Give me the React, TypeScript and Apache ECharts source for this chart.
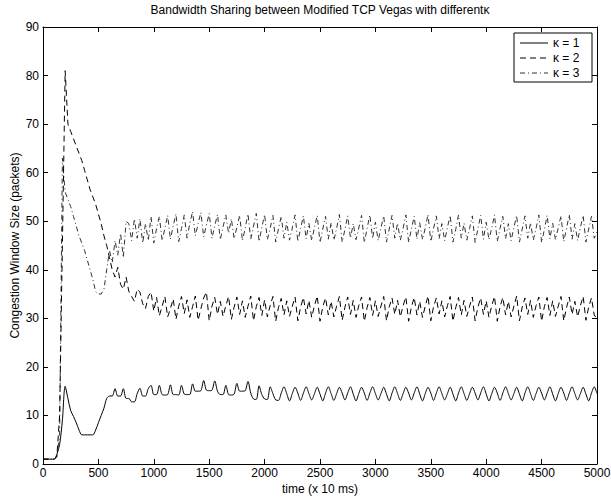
import React, { useEffect, useRef } from "react";
import * as echarts from "echarts";

const STEP = 25; // time grid step (x 10 ms)
const SERIES_NAMES = ["κ = 1", "κ = 2", "κ = 3"];
const TITLE = "Bandwidth Sharing between Modified TCP Vegas with differentκ";
const X_NAME = "time (x 10 ms)";
const Y_NAME = "Congestion Window Size (packets)";

const K1 = [
  1, 1, 1, 1, 1, 2, 4, 9, 16, 13.5,
  11, 9.8, 8.5, 7, 6, 6, 6, 6, 6, 7,
  8.5, 10, 11.5, 13.5, 14, 14, 15.5, 14, 14, 15.5,
  13.5, 13.5, 12.8, 12.8, 14.5, 15.6, 14, 14, 15.5, 16.2,
  14.3,
  14.3, 16.2, 14.3, 14.2, 14.3, 16.3, 14.3, 14.3, 14.2, 16.2, 14.4, 14.3,
  14.3, 16.5, 15, 15, 15.1, 17.2, 15.2, 15.1, 15.2, 17.1, 15, 14.3,
  14.3, 16.2, 14.3, 14.2, 14.4, 16.6, 15, 15, 15.1, 17, 14.6, 13.4,
  13.3, 16.1, 14.3, 13.4, 13.3, 15.9, 14.5, 13.2,
  13.1, 14.6, 15.9, 14.5, 13.0, 14.5, 15.8, 14.6, 13.1, 14.6, 15.9, 14.5,
  13.2, 14.5, 15.8, 14.4, 13.0, 14.6, 15.9, 14.5, 13.1, 14.5, 15.8, 14.6,
  13.2, 14.6, 15.9, 14.4, 13.0, 14.5, 15.8, 14.6, 13.1, 14.6, 15.9, 14.5,
  13.2, 14.5, 15.8, 14.4, 13.0, 14.6, 15.9, 14.5, 13.1, 14.5, 15.8, 14.6,
  13.2, 14.6, 15.9, 14.4, 13.0, 14.5, 15.8, 14.6, 13.1, 14.6, 15.9, 14.5,
  13.2, 14.5, 15.8, 14.4, 13.0, 14.6, 15.9, 14.5, 13.1, 14.5, 15.8, 14.6,
  13.2, 14.6, 15.9, 14.4, 13.0, 14.5, 15.8, 14.6, 13.1, 14.6, 15.9, 14.5,
  13.2, 14.5, 15.8, 14.4, 13.0, 14.6, 15.9, 14.5, 13.1, 14.5, 15.8, 14.6,
  13.2, 14.6, 15.9, 14.4, 13.0, 14.5, 15.8, 14.6, 13.1, 14.6, 15.9, 14.5,
  13.2, 14.5, 15.8, 14.4, 13.0, 14.6, 15.9, 14.5,
];

const K2 = [
  1, 1, 1, 1, 1, 1.5, 10, 45, 81, 70,
  68.5, 67, 65.5, 64, 62.5, 60.5, 58.5, 56.5, 55, 53.5,
  51.5, 49.5, 47, 45, 42.5, 40, 38.5, 40.5, 37, 36,
  38.5, 35.5, 34.5, 33.5, 36, 35.4, 33, 32, 34.5, 35.4,
  31.5,
  34.3, 30.5, 32.5, 34.5, 30.3, 32, 34, 29.8, 32.5, 34.5,
  31, 33.8, 30.2, 32.4, 34.6, 29.6, 32, 34.2, 35.4, 29.5,
  32.5, 34.3, 30.8, 33.5, 30.4, 32.6, 34.5, 29.8, 32.3, 34.4,
  30.8, 33.6, 30.2, 32.5, 34.6, 29.5, 32.4, 34.3, 30.6, 33.8,
  30.3, 32.6, 34.5, 29.4, 32.2, 34.1, 30.7, 33.6, 30.4, 32.5,
  34.4, 29.5, 32.3, 34.3, 30.9, 33.7, 30.2, 32.6, 34.6, 29.4,
  32.4, 34.2, 30.7, 33.5, 30.3, 32.5, 34.5, 29.6, 32.3, 34.4,
  30.8, 33.7, 30.2, 32.6, 34.4, 29.4, 32.2, 34.3, 30.6, 33.6,
  30.4, 32.5, 34.5, 29.5, 32.4, 34.2, 30.8, 33.7, 30.3, 32.6,
  34.4, 29.4, 32.3, 34.3, 30.7, 33.5, 30.2, 32.5, 34.6, 29.5,
  32.4, 34.2, 30.9, 33.6, 30.3, 32.6, 34.5, 29.4, 32.2, 34.3,
  30.7, 33.7, 30.4, 32.5, 34.4, 29.5, 32.3, 34.2, 30.8, 33.6,
  30.2, 32.6, 34.5, 29.4, 32.4, 34.3, 30.7, 33.5, 30.3, 32.5,
  34.6, 29.5, 32.3, 34.2, 30.8, 33.7, 30.2, 32.6, 34.4, 29.4,
  32.4, 34.3, 30.6, 33.6, 30.4, 32.5, 34.5, 29.5, 32.2, 34.4,
  30.8, 33.5, 30.3, 32.6, 34.5, 29.6, 32.3, 34.2, 30.7, 29.8,
];

const K3 = [
  1, 1, 1, 1, 1, 1.5, 6, 63, 56, 54.5,
  53, 51, 49, 47, 45.5, 44, 42, 40, 38, 35.5,
  35, 35, 36, 40, 44, 41.5, 46, 43, 47.5, 42.5,
  50, 49.5, 46, 50.5, 46.5, 50.5, 45.5, 49.5, 46, 51,
  45.5,
  48.5, 51, 46, 48.5, 51.2, 46.3, 49, 51.5, 45.8, 48.5,
  51.3, 46.5, 49.5, 52, 47, 49.5, 51.8, 46.8, 49.2, 51.6,
  46.5, 49, 51.4, 46.2, 48.8, 51.3, 47.5, 50.5, 46.4, 48.8,
  51.2, 46, 48.6, 51.5, 46.3, 49, 51.6, 45.8, 48.7, 51.4,
  46.2, 48.5, 51.2, 45.7, 48.4, 51, 46.5, 49.8, 46.1, 48.6,
  51.3, 45.8, 48.5, 51.1, 46.4, 49.6, 46, 48.7, 51.2, 45.6,
  48.4, 51, 46.3, 49.7, 46.1, 48.5, 51.4, 45.7, 48.3, 51.1,
  46.5, 49.5, 46.2, 48.6, 51.2, 45.6, 48.5, 51.3, 46.4, 49.8,
  46, 48.6, 51.1, 45.7, 48.4, 51.2, 46.5, 49.6, 46.1, 48.5,
  51.3, 45.6, 48.4, 51, 46.3, 49.7, 46.2, 48.6, 51.4, 45.8,
  48.5, 51.1, 46.4, 49.5, 46, 48.7, 51.2, 45.7, 48.3, 51.3,
  46.5, 49.6, 46.1, 48.5, 51.1, 45.6, 48.4, 51.2, 46.3, 49.8,
  46.2, 48.6, 51.3, 45.8, 48.5, 51, 46.4, 49.5, 46, 48.7,
  51.2, 45.7, 48.4, 51.1, 46.5, 49.7, 46.1, 48.5, 51.3, 45.6,
  48.3, 51.2, 46.4, 49.6, 46.2, 48.6, 51.1, 45.8, 48.5, 51.4,
  46.3, 49.5, 46, 48.7, 51.2, 45.7, 48.4, 51, 46.5, 47.8,
];

const SERIES_VALUES = [K1, K2, K3];
const LINE_TYPES: any[] = ["solid", [6, 4], [5, 3, 1, 3]];
const LINE_COLORS = ["#000", "#000", "#333"];
const SMOOTH = [0.3, false, false];
const FONT = "'Liberation Sans', Arial, Helvetica, sans-serif";
const FS = 12;

function axisBase() {
  return {
    axisLine: { show: true, onZero: false, lineStyle: { color: "#000", width: 1 } },
    axisTick: { show: true, inside: true, length: 5, lineStyle: { color: "#000", width: 1 } },
    splitLine: { show: false },
  };
}

export default function App() {
  const ref = useRef<HTMLDivElement>(null);
  useEffect(() => {
    if (!ref.current) return;
    const chart = echarts.init(ref.current, null, { renderer: "svg" });
    const legendX = 514;
    const legendY = 33;
    const legendGraphics: any[] = [
      {
        type: "rect",
        shape: { x: legendX, y: legendY, width: 78, height: 49 },
        style: { fill: "#fff", stroke: "#000", lineWidth: 1 },
        z: 100,
      },
    ];
    SERIES_NAMES.forEach((name, i) => {
      const yy = legendY + 10 + i * 15;
      legendGraphics.push({
        type: "line",
        shape: { x1: legendX + 6, y1: yy, x2: legendX + 34, y2: yy },
        style: {
          stroke: LINE_COLORS[i],
          lineWidth: 1,
          lineDash: LINE_TYPES[i] === "solid" ? null : LINE_TYPES[i],
        },
        z: 101,
      });
      legendGraphics.push({
        type: "text",
        x: legendX + 39,
        y: yy,
        style: {
          text: name,
          fill: "#000",
          font: `${FS}px ${FONT}`,
          verticalAlign: "middle",
          align: "left",
        },
        z: 101,
      });
    });

    const labelStyle = { color: "#000", fontSize: FS, fontFamily: FONT };

    chart.setOption({
      animation: false,
      backgroundColor: "#fff",
      title: {
        text: TITLE,
        left: 320,
        top: 4,
        padding: 0,
        textAlign: "center",
        textStyle: { fontSize: FS, fontWeight: "normal", color: "#000", fontFamily: FONT },
      },
      grid: { left: 43, right: 14, top: 27, bottom: 33, outerBoundsMode: "none", containLabel: false },
      xAxis: [
        {
          type: "value",
          min: 0,
          max: 5000,
          interval: 500,
          position: "bottom",
          ...axisBase(),
          axisLabel: { ...labelStyle, margin: 3, formatter: (v: number) => String(v) },
          name: X_NAME,
          nameLocation: "middle",
          nameGap: 19,
          nameMoveOverlap: false,
          nameTextStyle: labelStyle,
        },
        {
          type: "value",
          min: 0,
          max: 5000,
          interval: 500,
          position: "top",
          ...axisBase(),
          axisLabel: { show: false },
        },
      ],
      yAxis: [
        {
          type: "value",
          min: 0,
          max: 90,
          interval: 10,
          position: "left",
          ...axisBase(),
          axisLabel: { ...labelStyle, margin: 4 },
          name: Y_NAME,
          nameLocation: "middle",
          nameGap: 22,
          nameMoveOverlap: false,
          nameTextStyle: labelStyle,
        },
        {
          type: "value",
          min: 0,
          max: 90,
          interval: 10,
          position: "right",
          ...axisBase(),
          axisLabel: { show: false },
        },
      ],
      series: SERIES_VALUES.map((vals, i) => ({
        name: SERIES_NAMES[i],
        type: "line",
        xAxisIndex: 0,
        yAxisIndex: 0,
        symbol: "none",
        showSymbol: false,
        smooth: SMOOTH[i],
        lineStyle: { color: LINE_COLORS[i], width: 1, type: LINE_TYPES[i] },
        data: vals.map((v, j) => [j * STEP, v]),
        z: 3 - i,
      })),
      graphic: legendGraphics,
    });
    return () => chart.dispose();
  }, []);
  return (
    <div
      ref={ref}
      style={{ position: "fixed", left: 0, top: 0, width: 611, height: 497, background: "#fff" }}
    />
  );
}
